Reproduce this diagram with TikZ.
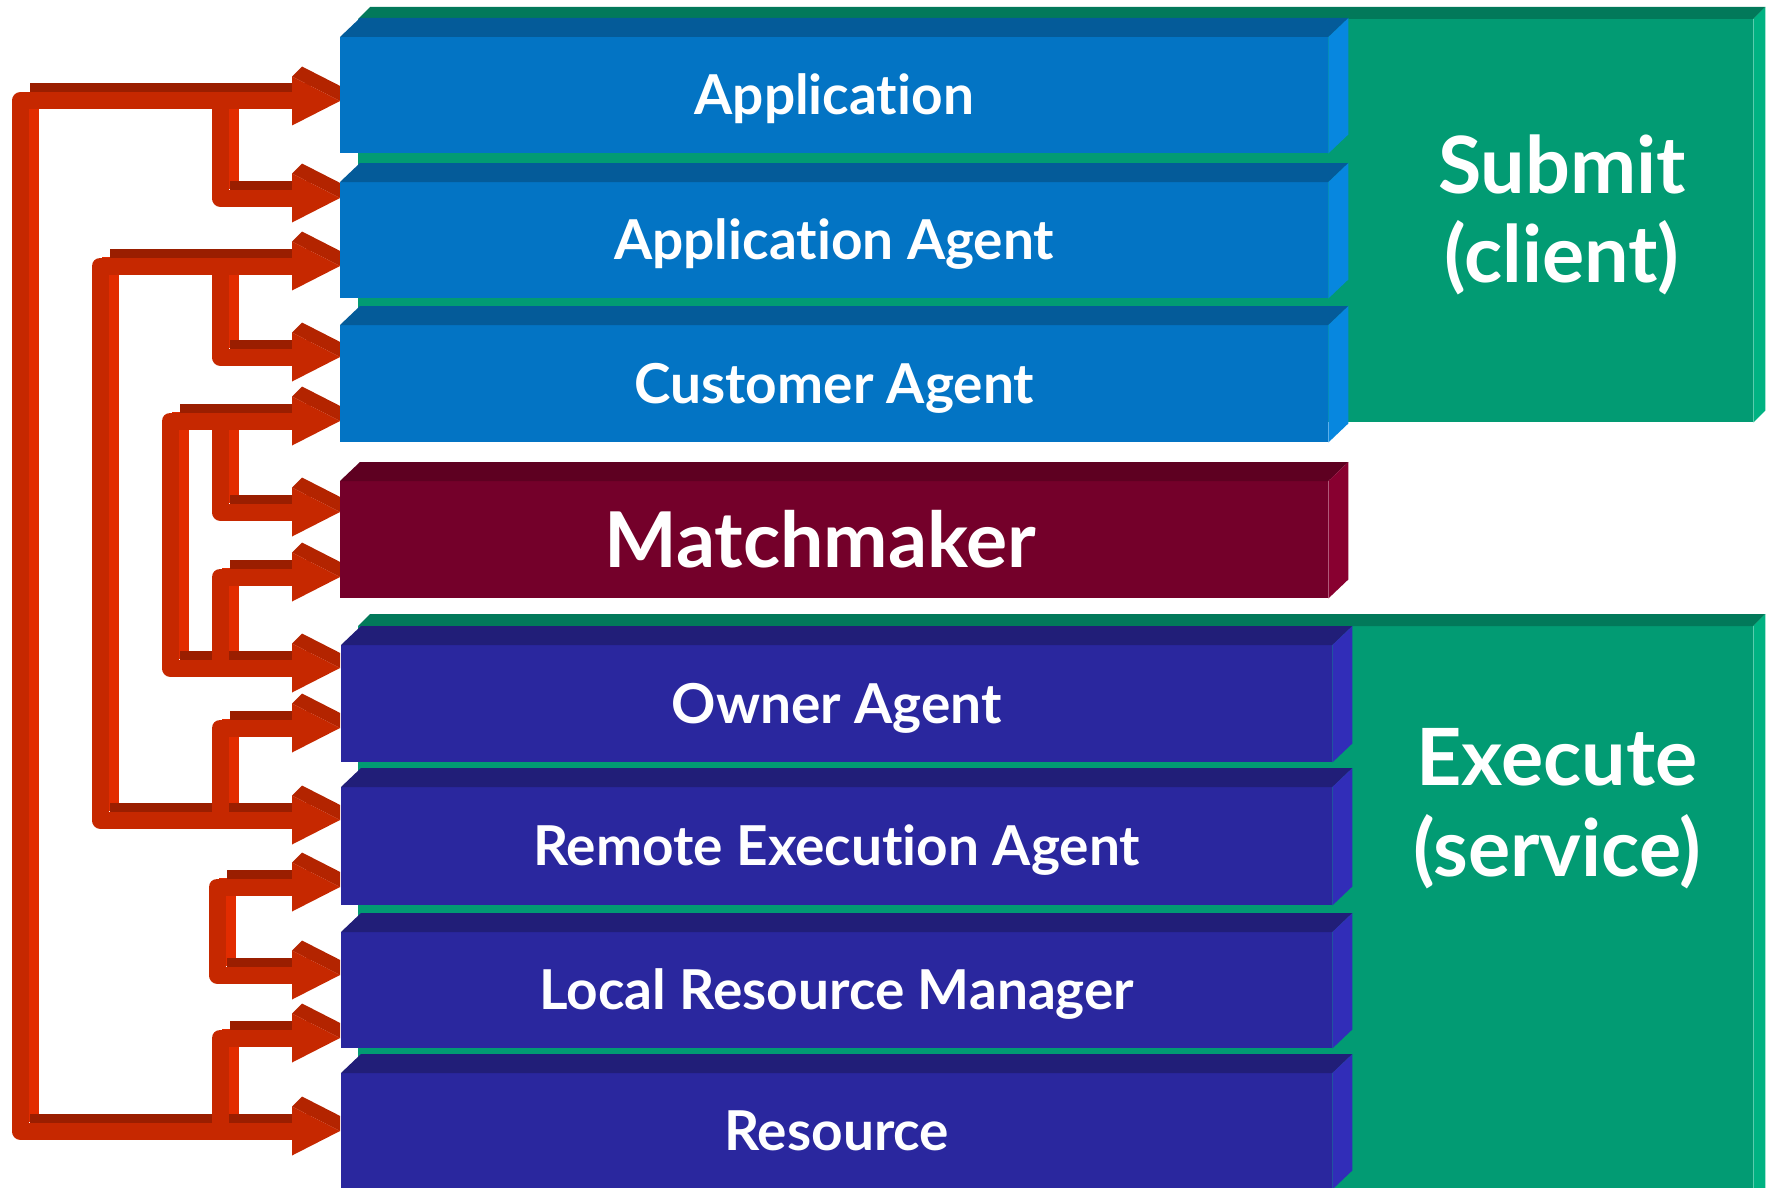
\documentclass[tikz,border=0pt]{standalone}
\usepackage{fontspec}
\setmainfont{Lato}[Ligatures=NoCommon]
\definecolor{bfront}{HTML}{0374C4}
\definecolor{btop}{HTML}{045B99}
\definecolor{bside}{HTML}{0787DF}
\definecolor{gfront}{HTML}{029B73}
\definecolor{gtop}{HTML}{02795A}
\definecolor{gside}{HTML}{00B282}
\definecolor{mfront}{HTML}{74002A}
\definecolor{mtop}{HTML}{5E0021}
\definecolor{mside}{HTML}{880030}
\definecolor{ifront}{HTML}{2A279E}
\definecolor{itop}{HTML}{211E78}
\definecolor{iside}{HTML}{312DB8}
\definecolor{rfront}{HTML}{C62800}
\definecolor{rdark}{HTML}{9A1E00}
\definecolor{rbright}{HTML}{E22C00}
\definecolor{rbevel}{HTML}{B32400}
\tikzset{
  slabfront/.style={rectangle, inner sep=0pt, text=white, anchor=north west},
  boxfont/.style={font=\fontsize{55}{60}\selectfont\bfseries, text height=39pt, text depth=0pt},
  bigfont/.style={font=\fontsize{77}{80}\selectfont\bfseries, text height=55pt, text depth=0pt},
  panelfont/.style={font=\fontsize{79}{80}\selectfont\bfseries, text=white, anchor=base, inner sep=0pt},
  shaft/.style={line width=17pt, line join=round},
  extrude/.style={transform canvas={shift={(10,-9)}}},
}
\newcommand\mkslab[7]{% name, x, y, width, height, colour prefix, text style
  \node[slabfront, fill=#6front, minimum width=#4pt, minimum height=#5pt, #7] (#1) at (#2,#3) {\csname lbl#1\endcsname};
  \fill[#6top] (#1.north west) -- ++(20,-19) -- ([shift={(20,-19)}]#1.north east) -- (#1.north east) -- cycle;
  \fill[#6side] (#1.north east) -- ++(20,-19) -- ([shift={(20,-19)}]#1.south east) -- (#1.south east) -- cycle;
}
\newcommand\lblapp{Application}
\newcommand\lblagent{Application Agent}
\newcommand\lblcust{Customer Agent}
\newcommand\lblmatch{Matchmaker\hspace*{28pt}}
\newcommand\lblowner{Owner Agent}
\newcommand\lblremote{Remote Execution Agent}
\newcommand\lbllrm{Local Resource Manager}
\newcommand\lblres{Resource}
\begin{document}
\begin{tikzpicture}[x=1pt, y=-1pt]
\useasboundingbox (0,0) rectangle (1766,1188);
\clip (0,0) rectangle (1766,1188);
\fill[white] (0,0) rectangle (1766,1188);

% ---- green panels ----
\node[slabfront, fill=gfront, minimum width=1395pt, minimum height=403pt] (submit) at (358,19) {};
\fill[gtop] (submit.north west) -- ++(12,-12) -- ([shift={(12,-12)}]submit.north east) -- (submit.north east) -- cycle;
\fill[gside] (submit.north east) -- ++(12,-12) -- ([shift={(12,-12)}]submit.south east) -- (submit.south east) -- cycle;
\node[slabfront, fill=gfront, minimum width=1395pt, minimum height=580pt] (execute) at (358,626) {};
\fill[gtop] (execute.north west) -- ++(12,-12) -- ([shift={(12,-12)}]execute.north east) -- (execute.north east) -- cycle;
\fill[gside] (execute.north east) -- ++(12,-12) -- ([shift={(12,-12)}]execute.south east) -- (execute.south east) -- cycle;
\node[panelfont] (sub1) at (1562,193) {Submit};
\node[panelfont] (sub2) at (1562,282) {(client)};
\node[panelfont] (exe1) at (1557,785) {Execute};
\node[panelfont] (exe2) at (1557,876) {(service)};

% ---- connector end points and rails ----
\coordinate (pA) at (300,101);
\coordinate (pB) at (300,198);
\coordinate (pC) at (300,266);
\coordinate (pD) at (300,357);
\coordinate (pE) at (300,421);
\coordinate (pF) at (300,512);
\coordinate (pG) at (300,577);
\coordinate (pH) at (300,668);
\coordinate (pI) at (300,728);
\coordinate (pJ) at (300,820);
\coordinate (pK) at (300,887);
\coordinate (pL) at (300,975);
\coordinate (pM) at (300,1038);
\coordinate (pN) at (300,1131);
\coordinate (rO) at (20,0);
\coordinate (rC) at (100,0);
\coordinate (rE) at (170,0);
\coordinate (rB) at (220,0);
\coordinate (rK) at (217,0);

\def\connlist{A/N/rO, A/B/rB, C/J/rC, C/D/rB, E/H/rE, E/F/rB, G/H/rB, I/J/rB, K/L/rK, M/N/rB}
% bright side faces of the vertical runs
\foreach \a/\b/\r in \connlist {
  \draw[rbright, shaft, extrude] (p\a -| \r) -- (p\b -| \r);
}
% dark top faces of the horizontal runs
\foreach \a/\b/\r in \connlist {
  \draw[rdark, shaft, extrude] (p\a) -- (p\a -| \r) (p\b -| \r) -- (p\b);
}
% front faces
\foreach \a/\b/\r in \connlist {
  \draw[rfront, shaft] (p\a) -- (p\a -| \r) -- (p\b -| \r) -- (p\b);
}
% arrow heads
\foreach \p in {A,B,C,D,E,F,G,H,I,J,K,L,M,N} {
  \fill[rbevel, shift={(p\p)}] (-8,-24.5) -- (2,-34.5) -- (40,-15.1) -- (40,0) -- cycle;
  \fill[rfront, shift={(p\p)}] (-8,-24.5) -- (40,0) -- (-8,24.5) -- cycle;
}

% ---- boxes ----
\mkslab{app}{340}{37}{988}{116}{b}{boxfont}
\mkslab{agent}{340}{182}{988}{116}{b}{boxfont}
\mkslab{cust}{340}{325}{988}{117}{b}{boxfont}
\mkslab{match}{340}{481}{988}{117}{m}{bigfont}
\mkslab{owner}{341}{645}{991}{117}{i}{boxfont}
\mkslab{remote}{341}{787}{991}{118}{i}{boxfont}
\mkslab{lrm}{341}{932}{991}{116}{i}{boxfont}
\mkslab{res}{341}{1073}{991}{116}{i}{boxfont}
\end{tikzpicture}
\end{document}
